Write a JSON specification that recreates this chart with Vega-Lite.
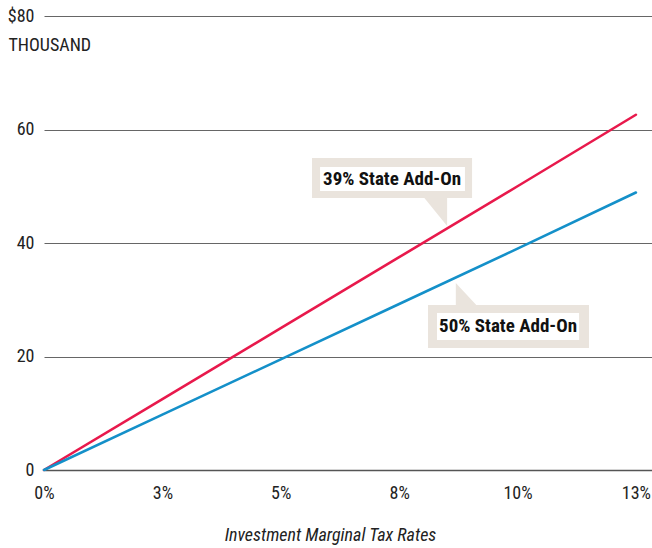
{
  "$schema": "https://vega.github.io/schema/vega-lite/v6.json",
  "width": 608,
  "height": 454,
  "autosize": {"type": "none"},
  "padding": {"left": 44, "top": 16, "right": 0, "bottom": 78},
  "background": "white",
  "config": {
    "view": {"stroke": null},
    "font": "Roboto Condensed"
  },
  "layer": [
    {
      "data": {"values": [
        {"kind": "outer", "x1": 0.0566, "x2": 0.0904, "y1": 47.93, "y2": 54.98},
        {"kind": "outer", "x1": 0.0811, "x2": 0.1151, "y1": 21.5, "y2": 29.07}
      ]},
      "mark": {"type": "rect", "color": "#EAE4DD"},
      "encoding": {
        "x": {"field": "x1", "type": "quantitative"},
        "x2": {"field": "x2"},
        "y": {"field": "y1", "type": "quantitative"},
        "y2": {"field": "y2"}
      }
    },
    {
      "data": {"values": [
        {"shape": "a", "x": 0.0826, "y": 45.46},
        {"shape": "b", "x": 0.0894, "y": 30.93}
      ]},
      "mark": {"type": "point", "filled": true, "opacity": 1, "color": "#EAE4DD", "strokeWidth": 0},
      "encoding": {
        "x": {"field": "x", "type": "quantitative"},
        "y": {"field": "y", "type": "quantitative"},
        "shape": {"field": "shape", "type": "nominal", "legend": null,
          "scale": {"domain": ["a", "b"], "range": ["M-0.857,-1.1L0.857,-1.1L0.857,1Z", "M-0.96,-0.96L-0.96,1.1L0.96,1.1Z"]}},
        "size": {"field": "shape", "type": "nominal", "legend": null,
          "scale": {"domain": ["a", "b"], "range": [784, 576]}}
      }
    },
    {
      "data": {"values": [
        {"x1": 0.0583, "x2": 0.0889, "y1": 49.16, "y2": 53.39},
        {"x1": 0.083, "x2": 0.113, "y1": 22.91, "y2": 27.67}
      ]},
      "mark": {"type": "rect", "color": "white"},
      "encoding": {
        "x": {"field": "x1", "type": "quantitative"},
        "x2": {"field": "x2"},
        "y": {"field": "y1", "type": "quantitative"},
        "y2": {"field": "y2"}
      }
    },
    {
      "data": {"values": [
        {"series": "39% State Add-On", "rate": 0, "value": 0},
        {"series": "39% State Add-On", "rate": 0.025, "value": 12.5},
        {"series": "39% State Add-On", "rate": 0.05, "value": 25},
        {"series": "39% State Add-On", "rate": 0.075, "value": 37.5},
        {"series": "39% State Add-On", "rate": 0.1, "value": 50},
        {"series": "39% State Add-On", "rate": 0.125, "value": 62.6},
        {"series": "50% State Add-On", "rate": 0, "value": 0},
        {"series": "50% State Add-On", "rate": 0.025, "value": 9.75},
        {"series": "50% State Add-On", "rate": 0.05, "value": 19.5},
        {"series": "50% State Add-On", "rate": 0.075, "value": 29.25},
        {"series": "50% State Add-On", "rate": 0.1, "value": 39},
        {"series": "50% State Add-On", "rate": 0.125, "value": 48.9}
      ]},
      "mark": {"type": "line", "strokeWidth": 2.6, "strokeCap": "round"},
      "encoding": {
        "x": {
          "field": "rate", "type": "quantitative",
          "scale": {"domain": [0, 0.1284], "nice": false, "zero": true},
          "axis": {
            "values": [0, 0.025, 0.05, 0.075, 0.1, 0.125],
            "format": ".0%",
            "title": "Investment Marginal Tax Rates",
            "titleFontStyle": "italic",
            "titleFontWeight": "normal",
            "titleFontSize": 18,
            "titleColor": "#222",
            "titlePadding": 24,
            "titleX": 286,
            "titleAnchor": "start",
            "titleAlign": "center",
            "labelFontSize": 18,
            "labelColor": "#222",
            "labelPadding": 14,
            "labelFlush": false,
            "ticks": false,
            "domain": true,
            "domainColor": "#555",
            "domainWidth": 1.5,
            "grid": false
          }
        },
        "y": {
          "field": "value", "type": "quantitative",
          "scale": {"domain": [0, 80], "nice": false},
          "axis": {
            "values": [0, 20, 40, 60, 80],
            "labelExpr": "datum.value == 80 ? '$80' : datum.label",
            "title": "THOUSAND",
            "titleAngle": 0,
            "titleAlign": "left",
            "titleBaseline": "middle",
            "titleX": -36,
            "titleY": 29,
            "titleFontWeight": "normal",
            "titleFontSize": 18,
            "titleColor": "#222",
            "labelFontSize": 18,
            "labelColor": "#222",
            "labelPadding": 10,
            "labelBaseline": "middle",
            "ticks": false,
            "domain": false,
            "grid": true,
            "gridColor": "#666",
            "gridWidth": 1
          }
        },
        "color": {
          "field": "series", "type": "nominal", "legend": null,
          "scale": {"domain": ["39% State Add-On", "50% State Add-On"], "range": ["#E8194C", "#1490C9"]}
        }
      }
    },
    {
      "data": {"values": [
        {"label": "39% State Add-On", "x": 0.0735, "y": 51.28},
        {"label": "50% State Add-On", "x": 0.098, "y": 25.37}
      ]},
      "mark": {"type": "text", "fontWeight": "bold", "fontSize": 19, "color": "#111", "align": "center", "baseline": "middle"},
      "encoding": {
        "x": {"field": "x", "type": "quantitative"},
        "y": {"field": "y", "type": "quantitative"},
        "text": {"field": "label"}
      }
    }
  ]
}
